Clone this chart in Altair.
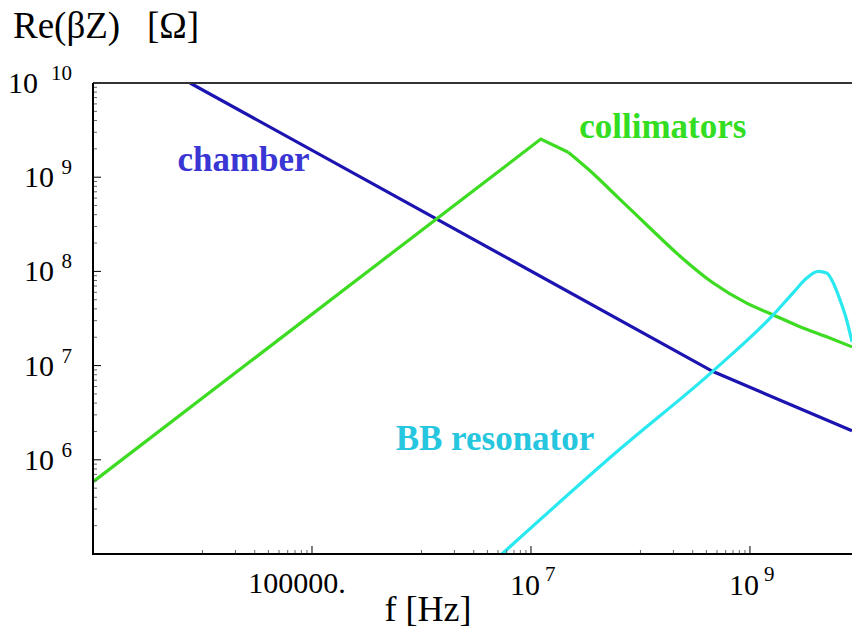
import altair as alt
import pandas as pd

# ---- data ----
chamber_f = [7.7e3, 4.6e8, 8.55e9]
chamber_Z = [1.0e10, 8.65e6, 2.03e6]

# collimators: rising part up to the shoulder, then the smooth fall-off
coll_rise_f = [1.0e3, 1.23e7, 2.19e7]
coll_rise_Z = [5.83e5, 2.54e9, 1.84e9]
coll_fall_f = [2.19e7, 3.46e7, 6.5e7, 1.31e8, 2.3e8, 4.62e8, 9.33e8,
               1.63e9, 2.86e9, 5.02e9, 8.55e9]
coll_fall_Z = [1.84e9, 1.17e9, 5.82e8, 2.67e8, 1.45e8, 7.52e7, 4.6e7,
               3.45e7, 2.59e7, 2.02e7, 1.58e7]

bb_f = [5.43e6, 6.5e7, 4.62e8, 1.63e9, 2.5e9, 3.3e9, 4.21e9, 5.02e9, 5.77e9, 6.64e9, 7.64e9, 8.55e9]
bb_Z = [1.0e5, 1.3e6, 8.8e6, 3.45e7, 6.0e7, 8.51e7, 1.0e8, 9.61e7, 7.52e7, 4.99e7, 3.05e7, 1.79e7]

series_names = ["chamber", "collimators", "BB resonator"]
line_colors = ["#1c14b0", "#3ddc23", "#2ae8f0"]
text_colors = ["#3a36d4", "#33dd22", "#25c6de"]

label_f = [2.37e4, 1.6e8, 4.69e6]
label_Z = [1.16e9, 2.61e9, 1.28e6]

x_domain = [1.0e3, 8.55e9]
y_domain = [1.0e5, 1.0e10]

x_label_exps = [7, 9]          # labels written as 10^n
x_plain_label = [1.0e5]        # label written as "100000."
x_major_ticks = [1e5, 1e7, 1e9]
x_minor_ticks = [m * 10.0 ** k for k in (4, 6, 8) for m in range(1, 10)]

y_label_exps = [6, 7, 8, 9, 10]
y_minor_ticks = [m * 10.0 ** k for k in (5, 6, 7, 8, 9) for m in range(2, 10)]

W, H = 759, 471
FONT = "Liberation Serif"
NB = "\u00a0"

xs = alt.Scale(type="log", domain=x_domain, nice=False, zero=False)
ys = alt.Scale(type="log", domain=y_domain, nice=False, zero=False)


def line_layer(fs, zs, color, interp="linear"):
    df = pd.DataFrame({"f": fs, "Z": zs, "order": list(range(len(fs)))})
    return alt.Chart(df).mark_line(strokeWidth=3.2, clip=True, interpolate=interp,
                                   color=color).encode(
        x=alt.X("f:Q", scale=xs, axis=None),
        y=alt.Y("Z:Q", scale=ys, axis=None),
        order="order:Q",
    )


chamber_line = line_layer(chamber_f, chamber_Z, line_colors[0])
coll_line_a = line_layer(coll_rise_f, coll_rise_Z, line_colors[1])
coll_line_b = line_layer(coll_fall_f, coll_fall_Z, line_colors[1], "monotone")
bb_line = line_layer(bb_f, bb_Z, line_colors[2], "monotone")

labels_df = pd.DataFrame({"f": label_f, "Z": label_Z, "series": series_names})
series_text = alt.Chart(labels_df).mark_text(
    font=FONT, fontSize=35, fontWeight="bold", align="center", baseline="alphabetic"
).encode(
    x=alt.X("f:Q", scale=xs, axis=None),
    y=alt.Y("Z:Q", scale=ys, axis=None),
    text="series:N",
    color=alt.Color("series:N", scale=alt.Scale(domain=series_names, range=text_colors), legend=None),
)

one = pd.DataFrame({"a": [0]})
top_line = alt.Chart(one).mark_rule(color="#333333", strokeWidth=2).encode(
    x=alt.value(0), x2=alt.value(W), y=alt.value(0))
left_line = alt.Chart(one).mark_rule(color="black", strokeWidth=2).encode(
    x=alt.value(0), y=alt.value(0), y2=alt.value(H + 1))
bottom_line = alt.Chart(one).mark_rule(color="black", strokeWidth=2.2).encode(
    x=alt.value(-1), x2=alt.value(W), y=alt.value(H))

# ticks (pointing into the plot)
xmaj = alt.Chart(pd.DataFrame({"f": x_major_ticks})).mark_rule(color="black", strokeWidth=1).encode(
    x=alt.X("f:Q", scale=xs, axis=None), y=alt.value(H), y2=alt.value(H - 8))
xmin = alt.Chart(pd.DataFrame({"f": x_minor_ticks})).mark_rule(color="#666666", strokeWidth=1).encode(
    x=alt.X("f:Q", scale=xs, axis=None), y=alt.value(H), y2=alt.value(H - 4))
ymaj = alt.Chart(pd.DataFrame({"Z": [10.0 ** e for e in y_label_exps]})).mark_rule(
    color="black", strokeWidth=1).encode(
    y=alt.Y("Z:Q", scale=ys, axis=None), x=alt.value(0), x2=alt.value(8))
ymin = alt.Chart(pd.DataFrame({"Z": y_minor_ticks})).mark_rule(color="#666666", strokeWidth=1).encode(
    y=alt.Y("Z:Q", scale=ys, axis=None), x=alt.value(0), x2=alt.value(4))

# y tick labels: "10" plus raised exponent
ylab_df = pd.DataFrame({"Z": [10.0 ** e for e in y_label_exps],
                        "base": ["10"] * len(y_label_exps),
                        "exp": [str(e) for e in y_label_exps],
                        "n": y_label_exps})
ybase1 = alt.Chart(ylab_df).transform_filter("datum.n < 10").mark_text(
    font=FONT, fontSize=30, align="right", baseline="alphabetic", dx=-39, dy=10, color="black"
).encode(y=alt.Y("Z:Q", scale=ys, axis=None), x=alt.value(0), text="base:N")
ybase2 = alt.Chart(ylab_df).transform_filter("datum.n >= 10").mark_text(
    font=FONT, fontSize=30, align="right", baseline="alphabetic", dx=-55, dy=10, color="black"
).encode(y=alt.Y("Z:Q", scale=ys, axis=None), x=alt.value(0), text="base:N")
yexp = alt.Chart(ylab_df).mark_text(
    font=FONT, fontSize=21, align="right", baseline="alphabetic", dx=-21, dy=-3, color="black"
).encode(y=alt.Y("Z:Q", scale=ys, axis=None), x=alt.value(0), text="exp:N")

# x tick labels
xlab_df = pd.DataFrame({"f": [10.0 ** e for e in x_label_exps],
                        "base": ["10"] * len(x_label_exps),
                        "exp": [str(e) for e in x_label_exps]})
xbase = alt.Chart(xlab_df).mark_text(
    font=FONT, fontSize=30, align="right", baseline="alphabetic", dx=9, dy=41, color="black"
).encode(x=alt.X("f:Q", scale=xs, axis=None), y=alt.value(H), text="base:N")
xexp = alt.Chart(xlab_df).mark_text(
    font=FONT, fontSize=21, align="left", baseline="alphabetic", dx=14, dy=27, color="black"
).encode(x=alt.X("f:Q", scale=xs, axis=None), y=alt.value(H), text="exp:N")
xplain = alt.Chart(pd.DataFrame({"f": x_plain_label, "t": ["100000."]})).mark_text(
    font=FONT, fontSize=30, align="center", baseline="alphabetic", dx=-15, dy=39, color="black"
).encode(x=alt.X("f:Q", scale=xs, axis=None), y=alt.value(H), text="t:N")

# axis titles
ytitle_a = alt.Chart(pd.DataFrame({"t": ["Re(βZ)"]})).mark_text(
    font=FONT, fontSize=37, align="left", baseline="alphabetic", color="black"
).encode(x=alt.value(-80), y=alt.value(-45), text="t:N")
ytitle_b = alt.Chart(pd.DataFrame({"t": ["[Ω]"]})).mark_text(
    font=FONT, fontSize=37, align="left", baseline="alphabetic", color="black"
).encode(x=alt.value(54), y=alt.value(-45), text="t:N")
xtitle = alt.Chart(pd.DataFrame({"t": ["f" + NB + "[Hz]"]})).mark_text(
    font=FONT, fontSize=36, align="center", baseline="alphabetic", color="black"
).encode(x=alt.value(335), y=alt.value(538), text="t:N")

chart = alt.layer(
    chamber_line, coll_line_a, coll_line_b, bb_line, series_text,
    xmaj, xmin, ymaj, ymin, top_line, left_line, bottom_line,
    ybase1, ybase2, yexp, xbase, xexp, xplain, ytitle_a, ytitle_b, xtitle
).properties(
    width=W, height=H,
    autosize=alt.AutoSizeParams(type="none"),
    padding={"left": 93, "top": 83, "right": 0, "bottom": 74},
    background="white",
).configure_view(stroke=None)

chart.save("out.html", embed_options={"renderer": "svg", "actions": False})
